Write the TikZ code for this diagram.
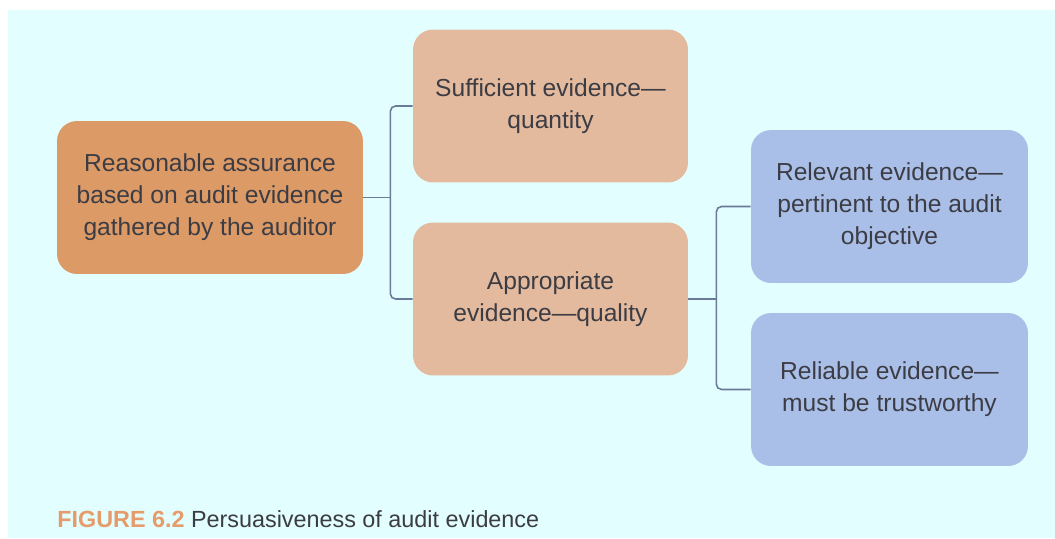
\documentclass[tikz,border=0pt]{standalone}
\usepackage{fontspec}
\setmainfont{Liberation Sans}
\usepackage{xcolor}
\usetikzlibrary{calc,
	positioning}

\definecolor{bgcyan}{HTML}{E2FEFF}
\definecolor{rootorange}{HTML}{DC9A66}
\definecolor{peach}{HTML}{E3BA9D}
\definecolor{paleblue}{HTML}{AABFE7}
\definecolor{capnum}{HTML}{E69B6B}
\definecolor{linkgray}{HTML}{6B7A99}
\definecolor{txtgray}{HTML}{3C3C44}

\begin{document}
\begin{tikzpicture}[x=0.02cm, y=-0.02cm,
		box/.style={rectangle, rounded corners=0.4cm, align=center, text=txtgray,
			minimum width=5.5cm, minimum height=3.06cm, inner sep=0pt,
			font=\fontsize{14}{18.2}\selectfont},
		link/.style={linkgray, line width=0.9pt, rounded corners=3pt}]
            \useasboundingbox (0, 0) rectangle (1055, 538);
            \fill[bgcyan] (8, 10) rectangle (1055, 538);

            % left column
            \node[box, fill=rootorange, minimum width=6.12cm] (assure) at (210, 197.5)
                {Reasonable assurance\\based on audit evidence\\gathered by the auditor};

            % middle column
            \node[box, fill=peach] (sufficient) at (550.5, 106)
                {Sufficient evidence---\\quantity};
            \node[box, fill=peach] (appropriate) at (550.5, 299)
                {Appropriate\\evidence---quality};

            % right column
            \node[box, fill=paleblue, minimum width=5.54cm] (relevant) at (889.5, 206.5)
                {Relevant evidence---\\pertinent to the audit\\objective};
            \node[box, fill=paleblue, minimum width=5.54cm] (reliable) at (889.5, 389.5)
                {Reliable evidence---\\must be trustworthy};

            \draw[link] (assure.east) -- ++(27, 0) coordinate (fork1);
            \draw[link] (sufficient.west) -| (fork1) |- (appropriate.west);
            \draw[link] (appropriate.east) -- ++(28, 0) coordinate (fork2);
            \draw[link] (relevant.west) -| (fork2) |- (reliable.west);

            \node[anchor=base west, inner sep=0pt, font=\fontsize{13.3}{16}\selectfont] (caption) at (57, 527)
                {\textcolor{capnum}{\textbf{FIGURE 6.2}} \textcolor{txtgray}{Persuasiveness of audit evidence}};
        \end{tikzpicture}
\end{document}
